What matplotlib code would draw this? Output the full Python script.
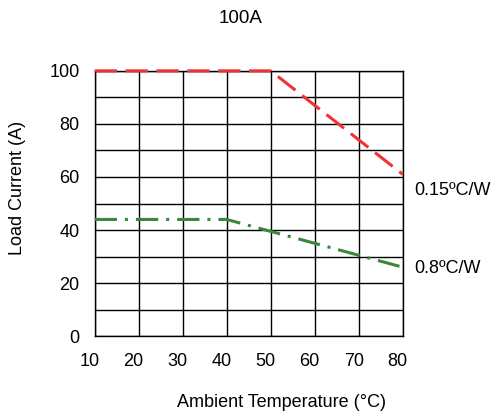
import matplotlib
matplotlib.use("Agg")
import matplotlib.pyplot as plt
from matplotlib.transforms import ScaledTranslation

plt.rcParams['font.family'] = ['Liberation Sans', 'DejaVu Sans']

# derating curves
temp_red = [10, 50, 80]
load_red = [100, 100, 61]
temp_green = [10, 40, 80]
load_green = [44, 44, 26]

labels = ["0.15ºC/W", "0.8ºC/W"]
xticks = [10, 20, 30, 40, 50, 60, 70, 80]
yticks = [0, 20, 40, 60, 80, 100]

fig = plt.figure(figsize=(4.93, 4.12), dpi=100)
ax = fig.add_axes([0.192, 0.184, 0.625, 0.644])

ax.plot(temp_red, load_red, color='#ee3333', lw=2.2, dashes=(7.3, 2.8),
        solid_capstyle='butt', dash_capstyle='butt', clip_on=False, zorder=5)
ax.plot(temp_green, load_green, color='#3a873a', lw=2.2, dashes=(7.3, 2.6, 1, 2.6),
        dash_capstyle='butt', clip_on=False, zorder=5)

ax.set_xlim(10, 80)
ax.set_ylim(0, 100)
ax.set_xticks(xticks)
ax.set_yticks(yticks)
ax.set_xticks(range(10, 81, 10), minor=True)
ax.set_yticks(range(0, 101, 10), minor=True)
ax.grid(True, which='both', color='black', lw=1.0)
ax.tick_params(which='both', length=0, labelsize=13)
ax.tick_params(axis='x', pad=12)
ax.tick_params(axis='y', pad=11)
for s in ax.spines.values():
    s.set_linewidth(1.0)

# x tick labels in the original sit slightly left of the gridlines
shift = ScaledTranslation(-5 / 100, 0, fig.dpi_scale_trans)
for lab in ax.get_xticklabels():
    lab.set_transform(lab.get_transform() + shift)

ax.text(82.7, 55, labels[0], fontsize=13, va='center', ha='left')
ax.text(82.7, 25.5, labels[1], fontsize=13, va='center', ha='left')

fig.text(0.487, 0.955, "100A", fontsize=13.5, ha='center', va='center')
fig.text(0.572, 0.024, "Ambient Temperature (°C)", fontsize=13, ha='center', va='center')
fig.text(0.036, 0.543, "Load Current (A)", fontsize=13, ha='center', va='center', rotation=90)

fig.savefig("out.png", dpi=100)
